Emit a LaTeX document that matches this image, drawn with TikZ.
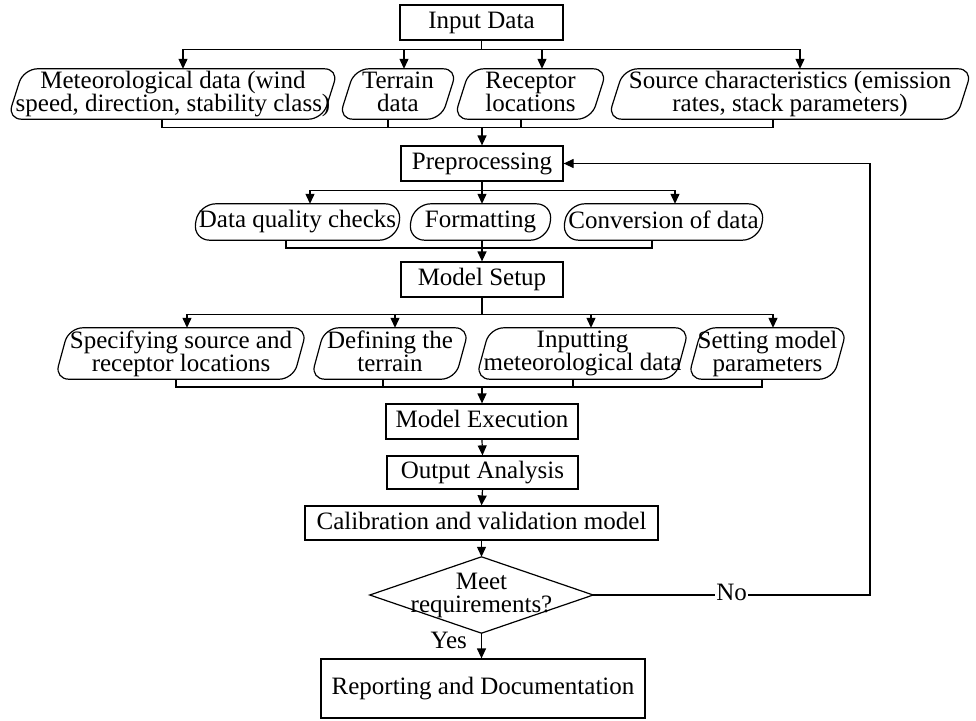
\documentclass[tikz,border=0pt]{standalone}
\usepackage{fontspec}
\setmainfont{Liberation Serif}
\usetikzlibrary{shapes.geometric,arrows.meta,calc}
\tikzset{
  base/.style={font=\fontsize{25}{23}\selectfont, align=center, inner sep=0pt, execute at end node={\rule[-5pt]{0pt}{1pt}}},
  box/.style={base, draw, line width=1.2pt},
  dtext/.style={base},
  shp/.style={draw, line width=1.2pt},
  ln/.style={line width=1.2pt},
  arr/.style={ln, -{Triangle[length=10pt,width=9pt]}},
}
\newcommand\slbox[3]{%
  \draw[shp, rounded corners=#3] ([xshift=-#2]#1.south west) -- ([xshift=#2]#1.north west) -- ([xshift=#2]#1.north east) -- ([xshift=-#2]#1.south east) -- cycle;}
\begin{document}
\begin{tikzpicture}[x=1pt,y=-1pt]
\useasboundingbox (0,0) rectangle (976,720);

% main boxes
\node[box, minimum width=163pt, minimum height=35pt] (inp) at (481.5,22.5) {Input Data};
\node[box, minimum width=162pt, minimum height=35pt] (pre) at (482,163.5) {Preprocessing};
\node[box, minimum width=162pt, minimum height=35pt] (setup) at (482,279.5) {Model Setup};
\node[box, minimum width=192pt, minimum height=35pt] (exec) at (482,421.5) {Model Execution};
\node[box, minimum width=191pt, minimum height=33pt] (out) at (482.5,472.5) {Output Analysis};
\node[box, minimum width=353pt, minimum height=34pt] (cal) at (481.5,523) {Calibration and validation model};
\node[dtext, minimum width=223pt, minimum height=76pt] (dia) at (481.5,595) {Meet\\requirements?};
\draw[shp] (dia.north) -- (dia.east) -- (dia.south) -- (dia.west) -- cycle;
\node[box, minimum width=324pt, minimum height=59pt] (rep) at (483,688.5) {Reporting and Documentation};

% row 1
\node[dtext, minimum width=312pt, minimum height=50pt] (met) at (173,94) {Meteorological data (wind\\speed, direction, stability class)};
\node[dtext, minimum width=102pt, minimum height=50pt] (ter) at (398,94) {Terrain\\data};
\node[dtext, minimum width=137pt, minimum height=50pt] (rec) at (530.5,94) {Receptor\\locations};
\node[dtext, minimum width=348pt, minimum height=50pt] (src) at (790,94) {Source characteristics (emission\\rates, stack parameters)};
\foreach \n in {met,ter,rec,src} {\slbox{\n}{8pt}{14pt}}

% row 2
\node[dtext, minimum width=203pt, minimum height=36pt] (dq) at (297.5,222) {Data quality checks};
\node[dtext, minimum width=139pt, minimum height=36pt] (fmt) at (480.5,222) {Formatting};
\node[dtext, minimum width=197pt, minimum height=36pt] (conv) at (663.5,222) {Conversion of data};
\foreach \n in {dq,fmt,conv} {\slbox{\n}{3pt}{17pt}}

% row 3
\node[dtext, minimum width=238pt, minimum height=51pt] (spec) at (181,353.5) {Specifying source and\\receptor locations};
\node[dtext, minimum width=144pt, minimum height=51pt] (def) at (390,353.5) {Defining the\\terrain};
\node[dtext, minimum width=199pt, minimum height=51pt] (imet) at (582.5,353.5) {Inputting\\meteorological data};
\node[dtext, minimum width=145pt, minimum height=51pt] (set) at (767.5,353.5) {Setting model\\parameters};
\foreach \n in {spec,def,imet,set} {\slbox{\n}{7pt}{14pt}}

% branch 1
\coordinate (j1) at ([yshift=-9pt]inp.south);
\draw[ln] (inp.south) -- (j1);
\foreach \n/\o in {met/10,ter/6,rec/11.5,src/10} {\draw[arr] (j1) -| ([xshift=\o pt]\n.north);}
\coordinate (m1) at ([yshift=18pt]pre.north);
\foreach \n/\o in {met/-11,ter/-10,rec/-9.5,src/-17} {\draw[ln] ([xshift=\o pt]\n.south) |- (m1);}
\draw[arr] (m1) -- (pre.north);

% branch 2
\coordinate (j2) at ([yshift=-8.5pt]pre.south);
\draw[ln] (pre.south) -- (j2);
\foreach \n/\o in {dq/12.5,fmt/1.5,conv/11.5} {\draw[arr] (j2) -| ([xshift=\o pt]\n.north);}
\coordinate (m2) at ([yshift=13.5pt]setup.north);
\foreach \n/\o in {dq/-11.5,fmt/1.5,conv/-11.5} {\draw[ln] ([xshift=\o pt]\n.south) |- (m2);}
\draw[arr] (m2) -- (setup.north);

% branch 3
\coordinate (j3) at ([yshift=-17pt]setup.south);
\draw[ln] (setup.south) -- (j3);
\foreach \n/\o in {spec/6,def/5,imet/8.5,set/5.5} {\draw[arr] (j3) -| ([xshift=\o pt]\n.north);}
\coordinate (m3) at ([yshift=16.5pt]exec.north);
\foreach \n/\o in {spec/-5,def/-7,imet/-9.5,set/-5.5} {\draw[ln] ([xshift=\o pt]\n.south) |- (m3);}
\draw[arr] (m3) -- (exec.north);

% chain
\draw[arr] (exec.south) -- (out.north);
\draw[arr] (out.south) -- (cal.north);
\draw[arr] (cal.south) -- (dia.north);
\draw[arr] (dia.south) -- node[base, left=14pt, pos=0.4] {Yes} (dia.south |- rep.north);
\coordinate (loop) at (870,0);
\draw[arr] (dia.east) -- node[base, midway, fill=white, inner xsep=1pt] {No} (dia.east -| loop) |- (pre.east);
\end{tikzpicture}
\end{document}
